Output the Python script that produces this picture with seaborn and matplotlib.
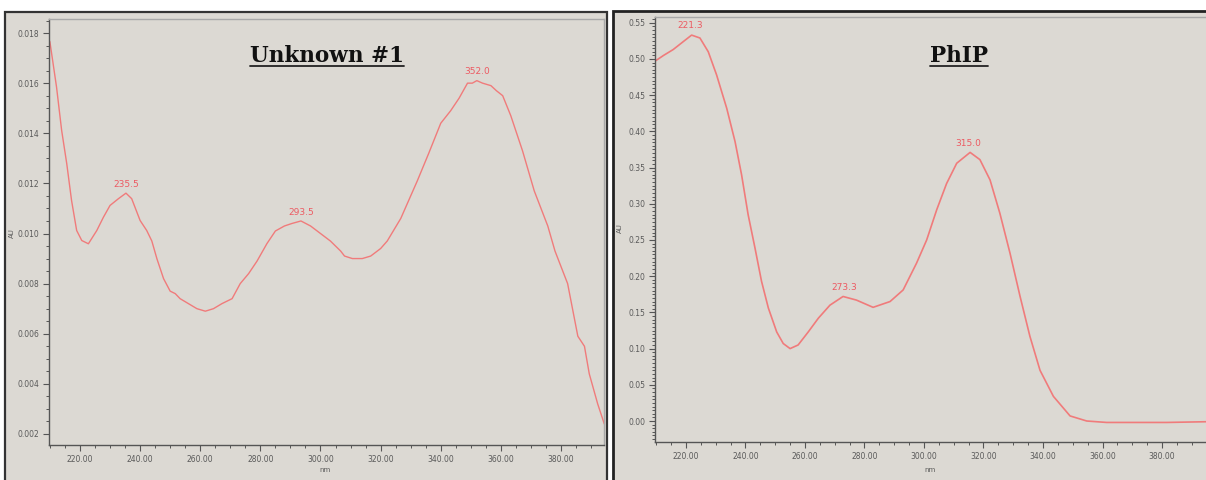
import numpy as np
import pandas as pd
import matplotlib
matplotlib.use("Agg")
import matplotlib.pyplot as plt
import seaborn as sns
from matplotlib.patches import Rectangle
from matplotlib.lines import Line2D
from matplotlib.ticker import MultipleLocator, FormatStrFormatter

# ---------------- data ----------------
unk_nm = [209.7, 210.0, 212.2, 213.9, 215.6, 217.2, 218.9, 220.6, 222.8, 225.6,
          227.8, 230.0, 232.8, 235.3, 237.2, 240.0, 242.2, 243.9, 245.6, 247.8,
          250.0, 251.7, 253.3, 256.1, 258.9, 261.7, 264.4, 267.2, 270.6, 273.3,
          276.1, 278.9, 282.2, 285.0, 288.0, 290.5, 293.5, 296.7, 300.0, 303.3,
          306.7, 308.0, 310.6, 313.9, 316.7, 320.0, 322.2, 326.7, 332.2, 336.0,
          340.0, 343.3, 346.1, 348.9, 350.5, 352.0, 353.9, 356.7, 358.5, 360.6,
          363.3, 367.2, 371.1, 375.6, 378.0, 382.2, 385.6, 387.8, 389.4, 392.2,
          394.4]
unk_au = [0.0177, 0.01765, 0.01585, 0.01412, 0.01279, 0.01132, 0.01012, 0.00972, 0.00959, 0.01012,
          0.01065, 0.01112, 0.01139, 0.01161, 0.01139, 0.01052, 0.01012, 0.0097, 0.00899, 0.0082,
          0.0077, 0.0076, 0.0074, 0.0072, 0.0070, 0.0069, 0.0070, 0.0072, 0.0074, 0.0080,
          0.0084, 0.0089, 0.0096, 0.0101, 0.0103, 0.0104, 0.0105, 0.0103, 0.0100, 0.0097,
          0.0093, 0.0091, 0.0090, 0.0090, 0.0091, 0.0094, 0.0097, 0.0106, 0.0121, 0.0132,
          0.0144, 0.0149, 0.0154, 0.0160, 0.0160, 0.0161, 0.0160, 0.0159, 0.0157, 0.0155,
          0.0147, 0.0133, 0.0117, 0.0103, 0.0093, 0.0080, 0.0059, 0.0055, 0.0044, 0.0032,
          0.0024]
unk_peaks_nm = [235.5, 293.5, 352.0]
unk_peaks_au = [0.0116, 0.0105, 0.0161]

phip_nm = [209.6, 212.5, 215.7, 219.1, 221.9, 224.7, 227.5, 230.3, 233.7, 236.5,
           238.7, 240.9, 243.2, 245.4, 247.7, 250.5, 252.7, 255.0, 257.7, 261.1,
           264.5, 268.4, 272.8, 277.3, 282.9, 288.6, 293.0, 297.5, 300.9, 304.3,
           307.6, 311.0, 315.5, 318.8, 322.2, 325.5, 328.9, 332.3, 335.6, 339.0,
           343.5, 349.1, 354.7, 361.4, 368.0, 381.6, 394.8]
phip_au = [0.497, 0.505, 0.513, 0.524, 0.533, 0.529, 0.510, 0.478, 0.432, 0.386,
           0.340, 0.285, 0.239, 0.193, 0.156, 0.123, 0.107, 0.100, 0.105, 0.123,
           0.142, 0.160, 0.172, 0.167, 0.157, 0.165, 0.181, 0.218, 0.250, 0.292,
           0.328, 0.356, 0.371, 0.361, 0.333, 0.287, 0.232, 0.172, 0.117, 0.070,
           0.034, 0.007, 0.000, -0.002, -0.002, -0.002, -0.001]
phip_peaks_nm = [221.3, 273.3, 315.0]
phip_peaks_au = [0.534, 0.172, 0.371]

titles = ["Unknown #1", "PhIP"]

# ---------------- style ----------------
sns.set_theme(style="white")
plt.rcParams["font.family"] = ["DejaVu Sans"]

W, H = 1206, 480
fig = plt.figure(figsize=(W / 100, H / 100), dpi=100, facecolor="white")

PANEL = "#dcd9d3"
LINE = "#f07b7b"
LABEL = "#ec5a62"
TICK = "#5a5a5a"

def fx(px):
    return px / W

def fy(py):
    return 1 - py / H

# panel frames
fig.add_artist(Rectangle((fx(5), fy(540)), fx(602), fy(12) - fy(540),
                         transform=fig.transFigure, facecolor=PANEL,
                         edgecolor="#333333", lw=1.6, zorder=-5))
fig.add_artist(Rectangle((fx(613), fy(540)), fx(640), fy(11) - fy(540),
                         transform=fig.transFigure, facecolor=PANEL,
                         edgecolor="#222222", lw=2.0, zorder=-5))

ax1 = fig.add_axes([fx(49), fy(445), fx(604 - 49), fy(19) - fy(445)])
ax2 = fig.add_axes([fx(655), fy(442), fx(1212 - 655), fy(17) - fy(442)])

d1 = pd.DataFrame({"nm": unk_nm, "AU": unk_au})
d2 = pd.DataFrame({"nm": phip_nm, "AU": phip_au})
sns.lineplot(data=d1, x="nm", y="AU", ax=ax1, color=LINE, lw=1.0)
sns.lineplot(data=d2, x="nm", y="AU", ax=ax2, color=LINE, lw=1.2)

ax1.set_xlim(209.7, 394.3)
ax1.set_ylim(0.00156, 0.01856)
ax2.set_xlim(209.6, 396.8)
ax2.set_ylim(-0.029, 0.558)

for ax, yfmt, ymaj, ymin in [(ax1, "%.3f", 0.002, 0.0005), (ax2, "%.2f", 0.05, 0.005)]:
    ax.set_facecolor(PANEL)
    ax.xaxis.set_major_locator(MultipleLocator(20))
    ax.xaxis.set_minor_locator(MultipleLocator(5))
    ax.xaxis.set_major_formatter(FormatStrFormatter("%.2f"))
    ax.yaxis.set_major_locator(MultipleLocator(ymaj))
    ax.yaxis.set_minor_locator(MultipleLocator(ymin))
    ax.yaxis.set_major_formatter(FormatStrFormatter(yfmt))
    ax.tick_params(axis="both", which="major", direction="out", length=4, width=0.8,
                   color="#555555", labelsize=5.5, labelcolor=TICK, pad=3,
                   bottom=True, left=True)
    ax.tick_params(axis="both", which="minor", direction="out", length=2, width=0.7,
                   color="#555555", bottom=True, left=True)
    for s in ["left", "bottom"]:
        ax.spines[s].set_color("#555555")
        ax.spines[s].set_linewidth(1.0)
    for s in ["top", "right"]:
        ax.spines[s].set_color("#a8a8a8")
        ax.spines[s].set_linewidth(1.0)
    ax.set_xlabel("")
    ax.set_ylabel("")

# axis labels
fig.text(fx(12), fy(233), "AU", rotation=90, fontsize=5, color=TICK, ha="center", va="center")
fig.text(fx(620), fy(228), "AU", rotation=90, fontsize=5, color=TICK, ha="center", va="center")
fig.text(fx(325), fy(470), "nm", fontsize=5, color=TICK, ha="center", va="center")
fig.text(fx(930), fy(470), "nm", fontsize=5, color=TICK, ha="center", va="center")

# peak labels
for ax, pn, pa in [(ax1, unk_peaks_nm, unk_peaks_au), (ax2, phip_peaks_nm, phip_peaks_au)]:
    for x, y in zip(pn, pa):
        ax.annotate(f"{x:.1f}", (x, y), xytext=(0, 3), textcoords="offset points",
                    ha="center", va="bottom", fontsize=6.5, color=LABEL)

# titles with underline
tts = []
for cx, t in [(327, titles[0]), (959, titles[1])]:
    tt = fig.text(fx(cx), fy(62), t, ha="center", va="baseline",
                  fontsize=15.5, fontweight="bold", family="DejaVu Serif", color="#111111")
    tts.append(tt)
fig.canvas.draw()
inv = fig.transFigure.inverted()
for tt in tts:
    bb = tt.get_window_extent().transformed(inv)
    fig.add_artist(Line2D([bb.x0, bb.x1], [fy(65.5), fy(65.5)], transform=fig.transFigure,
                          color="#222222", lw=1.3))

fig.savefig("out.png", dpi=100, facecolor="white")
